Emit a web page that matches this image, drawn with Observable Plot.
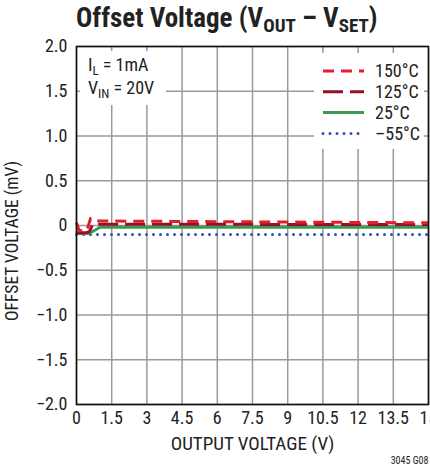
<!DOCTYPE html>
<html><head><meta charset="utf-8">
<script src="https://cdn.jsdelivr.net/npm/d3@7"></script>
<script src="https://cdn.jsdelivr.net/npm/@observablehq/plot@0.6"></script>
<style>
html,body{margin:0;padding:0;background:#fff;overflow:hidden}
body{width:430px;height:472px;position:relative;font-family:"Liberation Sans Narrow","Roboto Condensed","DejaVu Sans Condensed",sans-serif;color:#222}
#chart{position:absolute;left:0;top:0}
#title{position:absolute;left:76px;top:2px;font-weight:bold;font-size:27px;line-height:32px;white-space:nowrap;color:#222}
#title sub{font-size:19px;vertical-align:baseline;position:relative;top:5px}
#inset{position:absolute;left:80px;top:51px;width:86px;height:54px;background:#fff;font-size:18px;line-height:21px;padding-left:8px;box-sizing:border-box;padding-top:3px;white-space:nowrap}
#inset sub{font-size:13px;vertical-align:baseline;position:relative;top:4px}
#legend{position:absolute;left:314px;top:53px;width:110px;height:96px;background:#fff}
#ylabel{position:absolute;left:12px;top:241px;font-size:17.5px;white-space:nowrap;transform:translate(-50%,-50%) rotate(-90deg);line-height:20px}
</style>
</head><body>
<div id="chart"></div>
<div id="title">Offset Voltage (V<sub>OUT</sub> – V<sub>SET</sub>)</div>
<div id="inset">I<sub>L</sub> = 1mA<br>V<sub>IN</sub> = 20V</div>
<div id="legend"></div>
<div id="ylabel"></div>
<script>
// Series data (mV vs V)
const x150 = [0, 0.1, 0.3, 0.45, 0.6, 0.7, 1.0, 15];
const y150 = [0.03, -0.05, -0.07, -0.05, 0.08, 0.06, 0.05, 0.03];
const x125 = [0, 0.4, 0.55, 0.7, 1.0, 15];
const y125 = [-0.08, -0.08, -0.07, 0.02, 0.015, 0.01];
const x25 = [0, 0.5, 0.8, 1.0, 15];
const y25 = [-0.09, -0.09, -0.05, -0.02, -0.02];
const xm55 = [0, 15];
const ym55 = [-0.10, -0.10];

const seriesNames = ["150°C", "125°C", "25°C", "–55°C"];
const seriesColors = ["#e21f2f", "#960f2b", "#3b9950", "#3352b0"];
const seriesDash = ["11 7", "20 7", null, "0 7"];
const seriesWidth = [3, 3, 3, 3];
const seriesCap = ["butt", "butt", "butt", "round"];

const xTicks = [0, 1.5, 3, 4.5, 6, 7.5, 9, 10.5, 12, 13.5, 15];
const yTicks = [2.0, 1.5, 1.0, 0.5, 0, -0.5, -1.0, -1.5, -2.0];

const xLabel = "OUTPUT VOLTAGE (V)";
const yLabel = "OFFSET VOLTAGE (mV)";
const note = "3045 G08";

const pts = (xs, ys) => xs.map((x, i) => ({x, y: ys[i]}));
const series = [pts(x150, y150), pts(x125, y125), pts(x25, y25), pts(xm55, ym55)];

const fmtY = d => d === 0 ? "0" : (d < 0 ? "\u2212" : "") + Math.abs(d).toFixed(1);

const lineMark = (i) => Plot.line(series[i], {
  x: "x", y: "y", stroke: seriesColors[i], strokeWidth: seriesWidth[i],
  strokeDasharray: seriesDash[i] || undefined, strokeLinecap: seriesCap[i], strokeLinejoin: "round"
});

const chart = Plot.plot({
  width: 430, height: 472,
  marginLeft: 76, marginRight: 2, marginTop: 46, marginBottom: 68,
  style: {fontFamily: '"Liberation Sans Narrow","Roboto Condensed","DejaVu Sans Condensed",sans-serif', fontSize: "18px", color: "#222", background: "#fff"},
  x: {domain: [0, 15], ticks: xTicks, tickFormat: d => String(d), label: null, tickSize: 0, tickPadding: 7},
  y: {domain: [-2, 2], ticks: yTicks, tickFormat: fmtY, label: null, tickSize: 0, tickPadding: 9},
  marks: [
    Plot.gridX(xTicks, {stroke: "#9a9a9a", strokeOpacity: 1, strokeWidth: 1.5}),
    Plot.gridY(yTicks, {stroke: "#9a9a9a", strokeOpacity: 1, strokeWidth: 1.5}),
    lineMark(3), lineMark(2), lineMark(1), lineMark(0),
    Plot.frame({stroke: "#111", strokeWidth: 1.6}),
    Plot.text([xLabel], {frameAnchor: "bottom", dy: 39, text: d => d, fontSize: 19, lineAnchor: "middle"}),
    Plot.text([note], {frameAnchor: "bottom-right", dy: 56, dx: 0, text: d => d, fontSize: 10, textAnchor: "end", lineAnchor: "middle"})
  ]
});
document.getElementById("chart").appendChild(chart);
document.getElementById("ylabel").textContent = yLabel;

// Legend (built from series arrays)
const lg = d3.select("#legend").append("svg").attr("width", 110).attr("height", 96)
  .style("font-family", '"Liberation Sans Narrow","Roboto Condensed","DejaVu Sans Condensed",sans-serif');
seriesNames.forEach((name, i) => {
  const cy = 18 + i * 20.8;
  lg.append("line").attr("x1", 9).attr("x2", 50).attr("y1", cy).attr("y2", cy)
    .attr("stroke", seriesColors[i]).attr("stroke-width", seriesWidth[i])
    .attr("stroke-dasharray", seriesDash[i]).attr("stroke-linecap", seriesCap[i]);
  lg.append("text").attr("x", 61).attr("y", cy).attr("dy", "0.36em")
    .attr("font-size", 18).attr("fill", "#222").text(name);
});
</script>
</body></html>
